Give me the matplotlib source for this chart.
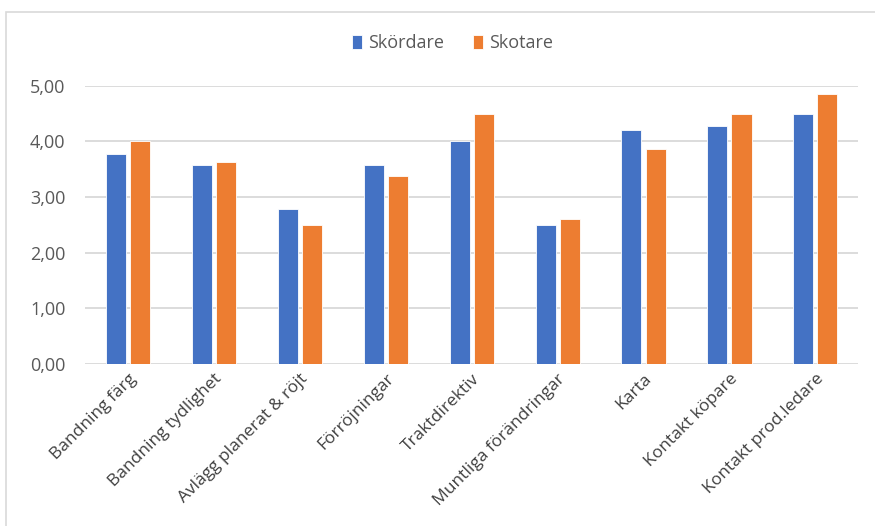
import matplotlib.pyplot as plt
import matplotlib.patches as patches
from matplotlib.ticker import FuncFormatter
import numpy as np

plt.rcParams['font.family'] = ['Open Sans', 'DejaVu Sans']

kategorier = ['Bandning färg', 'Bandning tydlighet', 'Avlägg planerat & röjt', 'Förröjningar',
              'Traktdirektiv', 'Muntliga förändringar', 'Karta', 'Kontakt köpare', 'Kontakt prod.ledare']
skordare = [3.78, 3.57, 2.79, 3.57, 4.00, 2.50, 4.21, 4.27, 4.50]
skotare = [4.00, 3.63, 2.50, 3.38, 4.50, 2.61, 3.87, 4.50, 4.86]

BLA = '#4472C4'
ORANGE = '#ED7D31'
GRID = '#d9d9d9'
TEXT = '#595959'

fig = plt.figure(figsize=(8.75, 5.26), dpi=100)
ax = fig.add_axes([0.097, 0.308, 0.884, 0.529])

# ram runt diagrammet
fig.patches.append(patches.Rectangle((0.007, -0.02), 1.1, 0.997, transform=fig.transFigure,
                                     fill=False, edgecolor=GRID, linewidth=1.2))

x = np.arange(len(kategorier))
w = 0.233
gap = 0.047
ax.bar(x - (w + gap) / 2, skordare, w, color=BLA, edgecolor='white', linewidth=0.6, label='Skördare', zorder=3)
ax.bar(x + (w + gap) / 2, skotare, w, color=ORANGE, edgecolor='white', linewidth=0.6, label='Skotare', zorder=3)

ax.set_xlim(-0.5, len(kategorier) - 0.5)
ax.set_ylim(0, 5)
ax.set_yticks(np.arange(0, 5.01, 1))
ax.yaxis.set_major_formatter(FuncFormatter(lambda v, p: f'{v:.2f}'.replace('.', ',')))
ax.grid(axis='y', color=GRID, linewidth=1.3, zorder=0)
for s in ax.spines.values():
    s.set_visible(False)
ax.tick_params(axis='y', length=0, pad=14, labelsize=13, labelcolor=TEXT)
ax.tick_params(axis='x', length=0, pad=5)
ax.set_xticks(x)
ax.set_xticklabels(kategorier, rotation=45, ha='right', rotation_mode='anchor',
                   fontsize=12.5, color='#404040')

ax.legend(loc='center', bbox_to_anchor=(0.517, (526 - 43) / 526), bbox_transform=fig.transFigure,
          ncol=2, frameon=False, fontsize=13, labelcolor=TEXT, handlelength=0.55, handleheight=0.8,
          handletextpad=0.35, columnspacing=1.6)

fig.savefig('out.png', dpi=100)
